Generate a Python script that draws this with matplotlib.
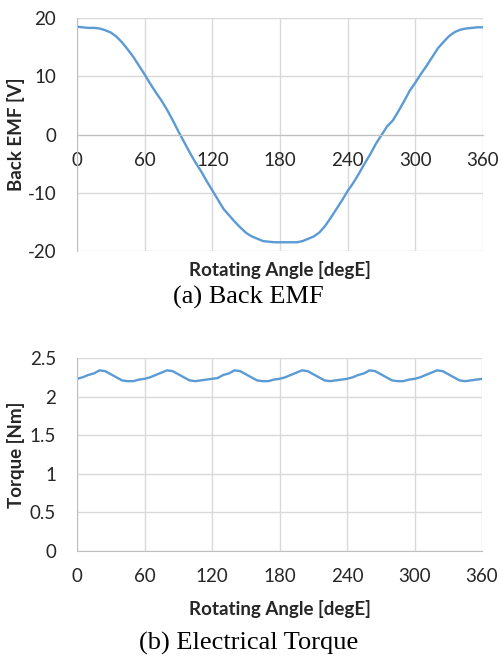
import matplotlib.pyplot as plt
import numpy as np

plt.rcParams['font.family'] = ['Lato', 'DejaVu Sans']

# --- data (5 degE steps) ---
angle = np.arange(0, 361, 5)

back_emf = [18.5, 18.4, 18.3, 18.3, 18.2, 17.9, 17.5, 16.8, 15.8, 14.6,
            13.3, 11.8, 10.3, 8.7, 7.2, 5.8, 4.2, 2.4, 0.5, -1.3,
            -3.1, -4.8, -6.3, -8.0, -9.6, -11.2, -12.8, -13.9, -15.0, -16.0,
            -16.9, -17.5, -17.9, -18.3, -18.4, -18.5, -18.5, -18.5, -18.5, -18.5,
            -18.3, -17.9, -17.5, -16.8, -15.7, -14.3, -12.8, -11.3, -9.7, -8.3,
            -6.7, -5.0, -3.4, -1.6, -0.1, 1.4, 2.4, 4.0, 5.7, 7.5,
            8.9, 10.4, 11.8, 13.3, 14.8, 15.9, 16.9, 17.6, 18.0, 18.2,
            18.3, 18.4, 18.4]

torque = [2.23, 2.25, 2.28, 2.30, 2.34, 2.33, 2.29, 2.25, 2.21, 2.20, 2.20, 2.22,
          2.23, 2.25, 2.28, 2.31, 2.34, 2.33, 2.29, 2.25, 2.21, 2.20, 2.21, 2.22,
          2.23, 2.24, 2.28, 2.30, 2.34, 2.33, 2.29, 2.25, 2.21, 2.20, 2.20, 2.22,
          2.23, 2.25, 2.28, 2.31, 2.34, 2.33, 2.29, 2.25, 2.21, 2.20, 2.21, 2.22,
          2.23, 2.25, 2.28, 2.30, 2.34, 2.33, 2.29, 2.25, 2.21, 2.20, 2.20, 2.22,
          2.23, 2.25, 2.28, 2.31, 2.34, 2.33, 2.29, 2.25, 2.21, 2.20, 2.21, 2.22,
          2.23]

x_ticks = [0, 60, 120, 180, 240, 300, 360]
emf_ticks = [-20, -10, 0, 10, 20]
torque_ticks = [0, 0.5, 1, 1.5, 2, 2.5]

LINE = '#5B9BD5'
GRID = '#d9d9d9'
AXIS = '#bfbfbf'
TXT = '#262626'
FS = 13.5

fig = plt.figure(figsize=(5.01, 6.59), dpi=100)
ax1 = fig.add_axes([77 / 501, 1 - 251 / 659, 406 / 501, 233 / 659])
ax2 = fig.add_axes([77 / 501, 1 - 551 / 659, 405 / 501, 193 / 659])


def style(ax, yticks, ylabels):
    ax.set_xlim(0, 360)
    ax.set_xticks(x_ticks)
    ax.set_yticks(yticks)
    ax.set_yticklabels(ylabels)
    ax.grid(True, color=GRID, linewidth=1.0)
    ax.set_axisbelow(True)
    for s in ['top', 'right']:
        ax.spines[s].set_visible(False)
    ax.spines['left'].set_color(AXIS)
    ax.spines['bottom'].set_color(AXIS)
    ax.tick_params(length=0, labelsize=FS, labelcolor=TXT)
    ax.tick_params(axis='x', pad=12.5)
    ax.tick_params(axis='y', pad=15)
    ax.set_xlabel('Rotating Angle [degE]', fontsize=FS, fontweight='bold',
                  color=TXT)


# --- (a) Back EMF ---
ax1.plot(angle, back_emf, color=LINE, linewidth=1.7)
ax1.set_ylim(-20, 20)
style(ax1, emf_ticks, [str(v) for v in emf_ticks])
ax1.spines['bottom'].set_position(('data', 0))
ax1.set_ylabel('Back EMF [V]', fontsize=FS, fontweight='bold', color=TXT)
ax1.xaxis.set_label_coords(0.5, -0.043)
ax1.yaxis.set_label_coords(-0.129, 0.5)

# --- (b) Electrical Torque ---
ax2.plot(angle, torque, color=LINE, linewidth=1.7)
ax2.set_ylim(0, 2.5)
style(ax2, torque_ticks, ['0', '0.5', '1', '1.5', '2', '2.5'])
ax2.set_ylabel('Torque [Nm]', fontsize=FS, fontweight='bold', color=TXT)
ax2.xaxis.set_label_coords(0.5, -0.254)
ax2.yaxis.set_label_coords(-0.129, 0.5)

fig.text(248 / 501, 1 - 297 / 659, '(a) Back EMF', ha='center', va='center',
         fontsize=19, family='Liberation Serif')
fig.text(249 / 501, 1 - 643 / 659, '(b) Electrical Torque', ha='center',
         va='center', fontsize=19, family='Liberation Serif')

fig.savefig('out.png', dpi=100)
